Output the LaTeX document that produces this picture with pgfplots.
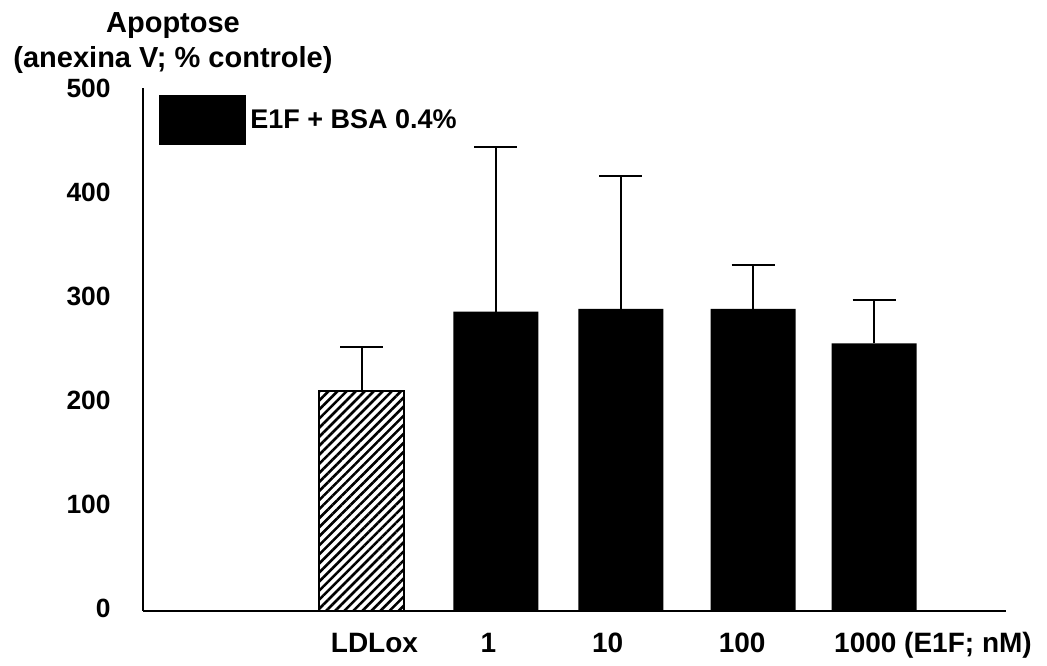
\documentclass[border=0pt]{standalone}
\usepackage{fontspec}
\setmainfont{Liberation Sans}
\usepackage{pgfplots}
\pgfplotsset{compat=1.18}
\usetikzlibrary{patterns.meta}

\begin{document}
\begin{tikzpicture}
\begin{axis}[
    scale only axis,
    width=431.5pt,
    height=261.5pt,
    xmin=-0.707, xmax=6.03,
    ymin=0, ymax=502.9,
    axis x line=bottom,
    axis y line=left,
    axis line style={-, line width=1pt},
    major tick length=0pt,
    xtick={1.10,1.99,2.92,3.97,5.46},
    xticklabels={LDLox,1,10,100,1000 (E1F; nM)},
    xticklabel style={anchor=base, yshift=-21pt, font=\fontsize{14}{16}\selectfont\bfseries},
    ytick={0,100,200,300,400,500},
    yticklabels={0,100,200,300,400,500},
    yticklabel style={anchor=east, inner sep=0pt, xshift=-16pt, yshift=1.5pt, font=\fontsize{13.2}{15}\selectfont\bfseries},
    clip=false,
    legend style={at={(rel axis cs:0,1)}, anchor=north west, xshift=8pt, yshift=-3.5pt,
        draw=none, fill=none, inner sep=0pt, font=\fontsize{13.5}{15}\selectfont\bfseries},
    legend cell align=left,
]
% hatched LDLox bar
\addplot[ybar, bar width=42.5pt, draw=black, line width=0.8pt, forget plot,
    pattern={Lines[angle=45, distance=3.2pt, line width=1.3pt]},
    error bars/.cd, y dir=plus, y explicit,
    error bar style={line width=1pt},
    error mark options={rotate=90, mark size=10.75pt, line width=1pt}]
    coordinates {(1,211.5) +- (0,42.5)};
% E1F + BSA 0.4%
\addplot[ybar, bar width=42.5pt, draw=none, fill=black,
    legend image code/.code={\fill[black] (0pt,-12.5pt) rectangle (43.5pt,12.5pt);},
    error bars/.cd, y dir=plus, y explicit,
    error bar style={line width=1pt},
    error mark options={rotate=90, mark size=10.75pt, line width=1pt}]
    coordinates {
    (2.047,287.8) +- (0,158.1)
    (3.023,290.4) +- (0,127.9)
    (4.055,290.4) +- (0,42.0)
    (5.000,257.4) +- (0,41.6)
};
\addlegendentry{E1F + BSA 0.4\%}
\end{axis}
\node[align=center, anchor=south, inner sep=0pt, font=\fontsize{14.5}{17.5}\selectfont\bfseries]
    at ([xshift=15pt, yshift=7pt]current axis.north west) {Apoptose\\(anexina V; \% controle)};
\path[use as bounding box] ([xshift=-71.5pt, yshift=44pt]current axis.north west)
    rectangle ([xshift=452pt, yshift=-285.5pt]current axis.north west);
\end{tikzpicture}
\end{document}
